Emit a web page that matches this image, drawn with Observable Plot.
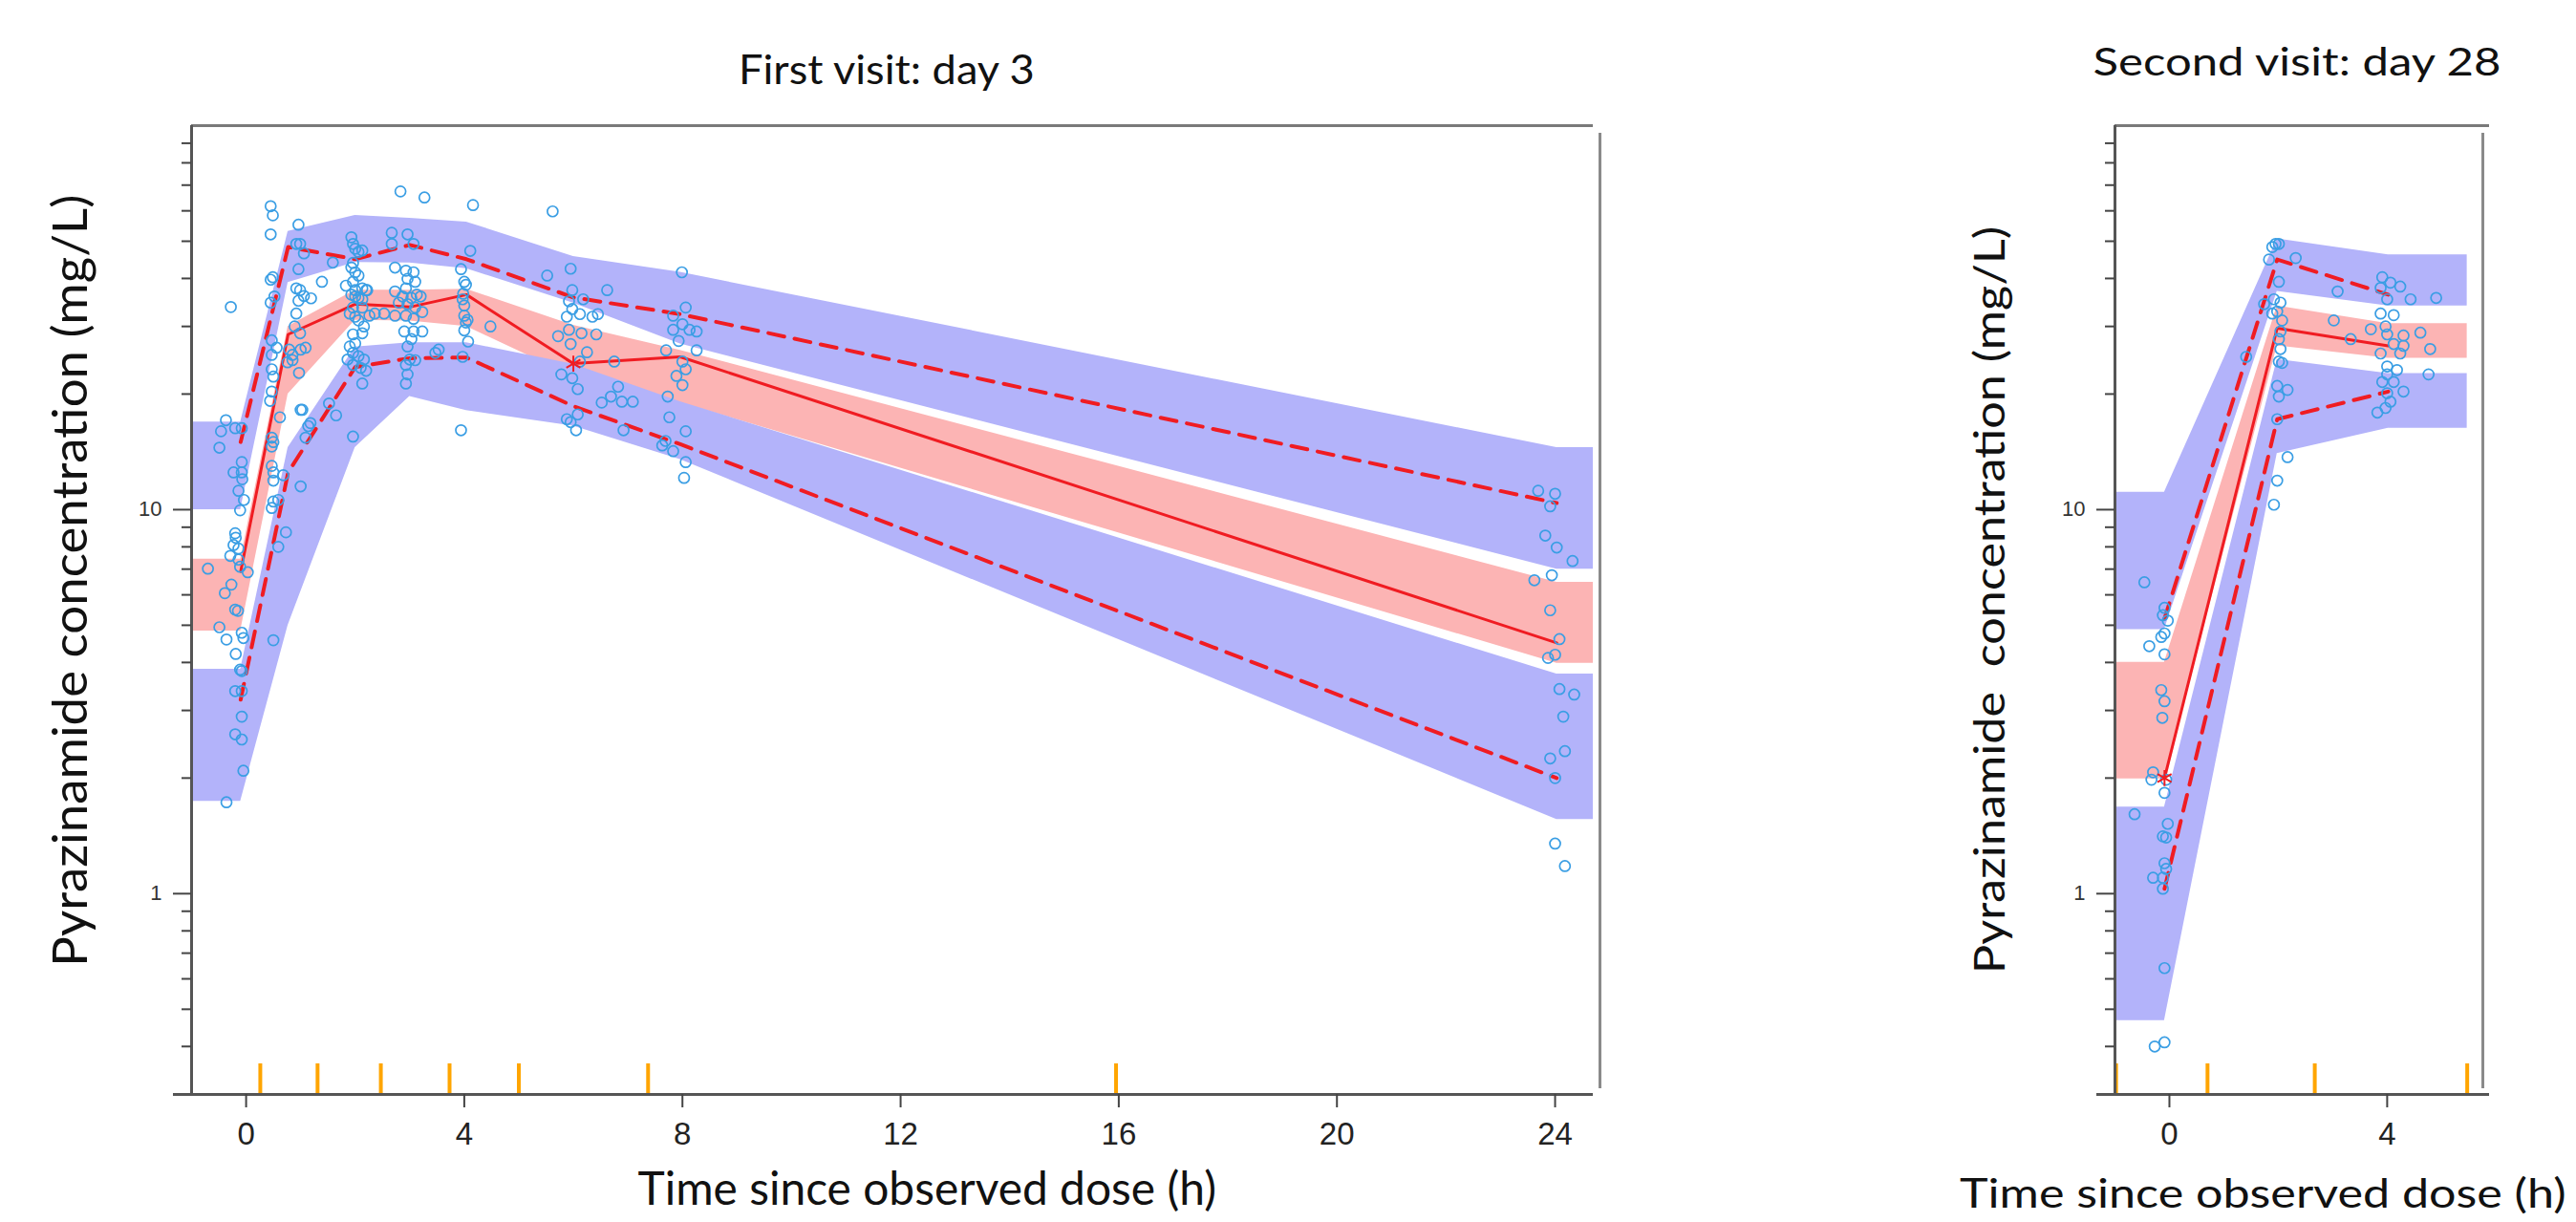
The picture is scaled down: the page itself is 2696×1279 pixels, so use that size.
<!DOCTYPE html>
<html><head><meta charset="utf-8">
<script src="https://cdn.jsdelivr.net/npm/d3@7"></script>
<script src="https://cdn.jsdelivr.net/npm/@observablehq/plot@0.6"></script>
<style>
html,body{margin:0;padding:0;background:#fff;}
#root{position:relative;width:2696px;height:1279px;overflow:hidden;background:#fff;}
.panel{position:absolute;top:0;}
.lbl{position:absolute;white-space:pre;font-family:Lato,"Open Sans",sans-serif;color:#111;line-height:1.15;transform-origin:50% 50%;}
</style></head><body><div id="root"></div>
<script>
// ---------- shared axes ----------
const yDomain = [0.3, 100];
const yMajorTicks = [1, 10];
const yMinorTicks = [0.4, 0.5, 0.6, 0.7, 0.8, 0.9, 2, 3, 4, 5, 6, 7, 8, 9, 20, 30, 40, 50, 60, 70, 80, 90];

// ---------- First visit: day 3 ----------
const leftXDomain = [-1, 24.7];
const leftXTicks = [0, 4, 8, 12, 16, 20, 24];
const leftBandExtent = [-1, 24.7];
const leftBinTime = [-0.1, 0.77, 2.0, 3.0, 4.04, 6.0, 7.96, 24.03];
const leftMedian = [6.9, 28.6, 34.3, 33.7, 36.3, 24.0, 25.0, 4.5];
const leftP95 = [15, 48.3, 44.9, 48.9, 44.9, 35.7, 32.3, 10.4];
const leftP05 = [3.2, 12.5, 23.5, 24.8, 24.9, 18.6, 14.8, 2.0];
const leftUpperCiLo = [10.0, 39, 44, 43.9, 42.4, 34.5, 27, 7.0];
const leftUpperCiHi = [16.9, 53, 58.4, 57.4, 56.1, 45.6, 41.5, 14.5];
const leftMedCiLo = [4.83, 20, 31.1, 31, 30, 22.2, 19, 3.98];
const leftMedCiHi = [7.43, 30, 37.3, 37.3, 37.5, 30.2, 26, 6.47];
const leftLowerCiLo = [1.74, 5.0, 14.5, 19.7, 18.1, 16.5, 13.5, 1.56];
const leftLowerCiHi = [3.84, 14.5, 26.5, 27.2, 27.2, 23.9, 19.1, 3.73];
const leftBinBounds = [0.26, 1.31, 2.47, 3.73, 5.0, 7.37, 15.95];
const leftStarBins = [5];
const leftObs = [
  [-0.37,17.1],[-0.46,16.0],[-0.49,14.5],[-0.20,16.3],[-0.08,16.3],[-0.08,13.3],[-0.23,12.5],[-0.08,12.5],[-0.07,12.0],[-0.14,11.2],
  [-0.04,10.6],[-0.11,9.96],[-0.20,8.68],[-0.19,8.45],[-0.23,8.09],[-0.14,7.92],[-0.29,7.58],[-0.14,7.41],[-0.11,7.10],[0.03,6.87],
  [-0.70,7.02],[-0.27,6.38],[-0.39,6.06],[-0.20,5.49],[-0.15,5.45],[-0.49,4.94],[-0.36,4.59],[-0.08,4.78],[-0.05,4.63],[-0.19,4.21],
  [-0.11,3.83],[-0.08,3.80],[-0.20,3.37],[-0.08,3.37],[-0.08,2.89],[-0.20,2.60],[-0.08,2.52],[-0.05,2.09],[-0.36,1.73],[-0.28,33.7],
  [0.47,27.6],[0.56,26.4],[0.47,25.3],[0.79,26.1],[0.85,25.3],[1.0,26.1],[1.09,26.4],[0.76,24.2],[0.85,24.5],[0.97,22.7],
  [0.47,23.2],[0.50,22.2],[0.47,20.3],[0.44,19.2],[0.62,17.4],[1.0,18.2],[1.03,18.2],[1.14,16.5],[1.09,15.4],[0.47,15.4],
  [0.50,15.0],[0.47,14.6],[0.68,12.3],[0.47,13.0],[0.50,12.5],[0.50,11.9],[0.59,10.6],[0.50,10.5],[0.47,10.1],[1.0,11.5],
  [0.73,8.73],[0.59,8.0],[0.50,4.57],[1.65,17.6],[1.52,18.9],[1.18,16.8],
  [0.45,61.7],[0.49,58.4],[0.45,52.1],[0.96,55.2],[0.92,49.2],[0.99,49.2],[1.06,46.5],[0.96,42.3],[1.39,39.2],[0.49,40.3],
  [0.45,39.7],[0.45,34.6],[0.52,35.9],[0.92,37.7],[0.99,37.3],[1.06,36.0],[1.19,35.5],[0.96,35.0],[0.92,32.4],[0.89,30.0],
  [0.99,28.8],[1.59,44.0],[1.83,38.3],
  [1.93,51.2],[1.96,49.2],[2.0,47.8],[2.06,46.9],[2.13,47.3],[1.96,43.9],[1.93,42.7],[2.0,41.5],[2.06,40.7],[1.96,39.2],
  [2.0,37.3],[2.13,37.7],[2.2,37.3],[1.93,36.3],[2.0,35.9],[2.06,35.6],[2.13,35.3],[1.96,33.6],[2.13,33.6],[1.9,32.4],
  [2.0,31.8],[2.06,31.1],[2.16,30.0],[1.96,28.6],[2.13,28.8],[2.0,27.1],[1.9,26.6],[1.96,25.6],[2.06,25.1],[2.16,24.6],
  [1.96,23.8],[2.1,23.4],[2.2,23.0],[2.13,21.3],[1.96,15.5],[2.26,32.0],[1.86,24.6],
  [2.83,67.4],[3.27,65.0],[2.67,52.6],[2.67,49.2],[2.96,52.1],[3.07,49.2],[2.73,42.7],[2.93,41.9],[3.07,41.5],[2.96,39.9],
  [3.1,39.2],[2.93,37.7],[2.73,37.0],[3.13,36.3],[2.87,35.9],[3.03,35.6],[3.2,35.9],[2.8,34.6],[2.96,34.3],[3.1,33.6],
  [3.23,32.7],[2.73,32.0],[2.93,32.0],[3.07,31.4],[2.9,29.1],[3.07,29.1],[3.23,29.1],[3.03,27.8],[2.96,26.6],[3.0,24.6],
  [3.1,24.5],[2.93,23.8],[2.96,22.5],[2.93,21.3],[3.47,25.6],[3.53,26.1],[2.36,32.4],[2.53,32.4],[2.22,37.3],
  [4.16,62.1],[4.11,47.2],[3.94,42.3],[4.0,39.2],[4.03,38.5],[3.97,35.3],[4.0,32.0],[4.03,30.7],[4.0,29.3],[4.07,27.4],
  [3.97,25.0],[4.48,30.0],[3.94,16.1],[4.0,34.0],[4.06,31.2],[3.98,36.5],
  [5.62,59.8],[5.95,42.4],[5.52,40.7],[5.98,37.3],[6.62,37.3],[6.18,35.3],[5.92,34.9],[5.98,33.3],[6.45,32.3],[6.35,31.8],
  [6.12,32.3],[5.88,31.8],[5.72,28.3],[5.92,29.4],[6.15,28.8],[6.42,28.6],[5.95,27.0],[6.25,25.7],[6.12,24.3],[6.75,24.3],
  [5.78,22.5],[5.98,22.0],[6.82,20.9],[6.08,20.6],[6.69,19.7],[6.89,19.1],[7.09,19.1],[6.52,19.0],[6.08,17.7],[5.88,17.2],
  [5.95,16.9],[6.05,16.1],[6.92,16.1],
  [7.99,41.5],[8.06,33.6],[7.83,32.0],[8.0,30.4],[7.83,29.4],[8.13,29.4],[8.26,29.1],[7.93,27.5],[7.7,26.0],[8.26,26.0],
  [8.0,24.3],[8.06,23.2],[7.89,22.3],[8.0,21.1],[7.73,19.7],[7.76,17.4],[8.06,16.0],[7.69,15.1],[7.63,14.7],[7.83,14.2],
  [8.06,13.3],[8.03,12.1],
  [23.69,11.2],[24.0,11.0],[23.91,10.2],[23.82,8.56],[24.03,7.97],[24.32,7.35],[23.62,6.55],[23.94,6.75],[23.91,5.47],[24.08,4.60],
  [23.87,4.11],[24.0,4.19],[24.08,3.41],[24.35,3.30],[24.15,2.89],[24.18,2.35],[23.91,2.25],[24.0,2.0],[24.0,1.35],[24.18,1.18]
];

// ---------- Second visit: day 28 ----------
const rightXDomain = [-1, 5.88];
const rightXTicks = [0, 4];
const rightBandExtent = [-0.98, 5.47];
const rightBinTime = [-0.09, 1.98, 4.02];
const rightMedian = [2.0, 29.7, 26.7];
const rightP95 = [5.2, 44.8, 36.3];
const rightP05 = [1.03, 17.2, 20.3];
const rightUpperCiLo = [4.87, 37.0, 33.9];
const rightUpperCiHi = [11.1, 50.7, 46.1];
const rightMedCiLo = [1.99, 26.7, 24.8];
const rightMedCiHi = [4.0, 33.9, 30.5];
const rightLowerCiLo = [0.467, 14.0, 16.3];
const rightLowerCiHi = [1.68, 24.6, 22.6];
const rightBinBounds = [-0.98, 0.70, 2.67, 5.47];
const rightStarBins = [0];
const rightObs = [
  [-0.46,6.47],[-0.09,5.55],[-0.12,5.31],[-0.03,5.14],[-0.09,4.76],[-0.15,4.66],[-0.37,4.41],[-0.09,4.20],[-0.15,3.39],[-0.09,3.17],
  [-0.13,2.87],[-0.30,2.07],[-0.33,1.98],[-0.09,1.83],[-0.06,1.98],[-0.64,1.61],[-0.03,1.52],[-0.12,1.41],[-0.06,1.40],[-0.09,1.20],
  [-0.06,1.16],[-0.30,1.10],[-0.12,1.10],[-0.12,1.03],[-0.09,0.64],[-0.09,0.41],[-0.27,0.40],
  [1.89,48.3],[1.95,49.2],[2.01,49.2],[1.83,44.8],[2.32,45.2],[2.01,39.2],[1.74,34.3],[1.92,35.3],[2.04,34.6],[1.98,32.8],
  [1.89,32.4],[2.07,31.1],[2.04,29.1],[2.01,27.8],[2.04,26.2],[2.01,24.3],[2.07,24.1],[1.41,25.0],[1.98,21.0],[2.17,20.5],
  [2.01,19.7],[1.98,17.2],[2.17,13.7],[1.98,11.9],[1.92,10.3],[3.02,31.1],[3.33,27.8],[3.09,37.0],
  [3.91,40.3],[4.06,39.0],[4.24,38.1],[3.88,37.8],[4.0,35.3],[4.43,35.3],[4.90,35.6],[3.88,32.4],[4.12,32.1],[3.97,30.0],
  [3.70,29.5],[4.0,28.6],[4.30,28.4],[4.61,28.9],[4.12,27.0],[4.30,26.7],[4.79,26.2],[3.88,25.5],[4.24,25.5],[4.0,23.6],
  [4.18,23.1],[4.76,22.5],[4.0,22.5],[3.91,21.5],[4.12,21.5],[4.30,20.3],[4.0,20.1],[4.06,19.1],[3.97,18.4],[3.82,17.9]
];

// ---------- styles ----------
const BLUE = "#b3b3fa", PINK = "#fcb4b4", RED = "#f01c22", PT = "#3a9ee4", ORANGE = "#ffa500";

function bandRows(xs, lo, hi, ext) {
  const rows = xs.map((x, i) => ({x, lo: lo[i], hi: hi[i]}));
  return [{x: ext[0], lo: lo[0], hi: hi[0]}, ...rows, {x: ext[1], lo: lo[lo.length - 1], hi: hi[hi.length - 1]}];
}

function drawPanel(c) {
  const rows = (ys) => c.binX.map((x, i) => ({x, y: ys[i]}));
  const marks = [
    Plot.areaY(bandRows(c.binX, c.uLo, c.uHi, c.ext), {x: "x", y1: "lo", y2: "hi", fill: BLUE}),
    Plot.areaY(bandRows(c.binX, c.mLo, c.mHi, c.ext), {x: "x", y1: "lo", y2: "hi", fill: PINK}),
    Plot.areaY(bandRows(c.binX, c.lLo, c.lHi, c.ext), {x: "x", y1: "lo", y2: "hi", fill: BLUE}),
    Plot.line(rows(c.p95), {x: "x", y: "y", stroke: RED, strokeWidth: 4, strokeDasharray: "17,11"}),
    Plot.line(rows(c.p05), {x: "x", y: "y", stroke: RED, strokeWidth: 4, strokeDasharray: "17,11"}),
    Plot.line(rows(c.med), {x: "x", y: "y", stroke: RED, strokeWidth: 3}),
    Plot.dot(c.obs, {x: d => d[0], y: d => d[1], r: 5.5, stroke: PT, strokeWidth: 1.7, fill: "none"}),
    Plot.dot(rows(c.med).filter((d, i) => c.stars.includes(i)), {x: "x", y: "y", symbol: "asterisk", r: 8, stroke: RED, strokeWidth: 2}),
    Plot.ruleX(c.bounds, {x: d => d, y1: () => yDomain[0], y2: () => yDomain[0], insetTop: -32, stroke: ORANGE, strokeWidth: 4}),
    Plot.ruleY([yDomain[1]], {stroke: "#7a7a7a", strokeWidth: 3}),
    Plot.ruleX([c.xDomain[0]], {stroke: "#555", strokeWidth: 3}),
    Plot.ruleY([yDomain[0]], {stroke: "#555", strokeWidth: 3, insetLeft: -19}),
    Plot.ruleX([c.xDomain[1]], {dx: c.rightDx, insetTop: 8, insetBottom: 6, stroke: "#8a8a8a", strokeWidth: 3}),
    Plot.axisX({ticks: c.xTicks, tickSize: 14, tickPadding: 15, fontSize: 33, stroke: "#444", strokeWidth: 2, color: "#222", label: null, tickFormat: d => String(d)}),
    Plot.axisY({ticks: yMajorTicks, tickSize: 19, tickPadding: 12, fontSize: 22, stroke: "#444", strokeWidth: 2, color: "#333", label: null, tickFormat: d => String(d)}),
    Plot.axisY({ticks: yMinorTicks, tickSize: 10, stroke: "#444", strokeWidth: 2, label: null, tickFormat: () => ""})
  ];
  return Plot.plot({
    width: c.width, height: 1279,
    marginLeft: c.ml, marginRight: c.mr, marginTop: 131, marginBottom: 134,
    x: {domain: c.xDomain},
    y: {type: "log", domain: yDomain},
    style: {background: "transparent", fontFamily: "'Liberation Sans', Arial, sans-serif"},
    marks
  });
}

const root = document.getElementById("root");
const left = drawPanel({
  width: 1700, ml: 200, mr: 33, xDomain: leftXDomain, xTicks: leftXTicks, ext: leftBandExtent, binX: leftBinTime,
  med: leftMedian, p95: leftP95, p05: leftP05, uLo: leftUpperCiLo, uHi: leftUpperCiHi, mLo: leftMedCiLo, mHi: leftMedCiHi,
  lLo: leftLowerCiLo, lHi: leftLowerCiHi, bounds: leftBinBounds, obs: leftObs, stars: leftStarBins, rightDx: 7
});
left.classList.add("panel"); left.style.left = "0px";
root.appendChild(left);

const right = drawPanel({
  width: 596, ml: 113, mr: 91, xDomain: rightXDomain, xTicks: rightXTicks, ext: rightBandExtent, binX: rightBinTime,
  med: rightMedian, p95: rightP95, p05: rightP05, uLo: rightUpperCiLo, uHi: rightUpperCiHi, mLo: rightMedCiLo, mHi: rightMedCiHi,
  lLo: rightLowerCiLo, lHi: rightLowerCiHi, bounds: rightBinBounds, obs: rightObs, stars: rightStarBins, rightDx: -7
});
right.classList.add("panel"); right.style.left = "2100px";
root.appendChild(right);

function addLabel(text, cx, cy, w, fs, rot) {
  const el = document.createElement("div");
  el.className = "lbl";
  el.textContent = text;
  el.style.fontSize = fs + "px";
  root.appendChild(el);
  const mw = el.offsetWidth, mh = el.offsetHeight;
  el.style.left = (cx - mw / 2) + "px";
  el.style.top = (cy - mh / 2) + "px";
  el.style.transform = `rotate(${rot}deg) scaleX(${w / mw})`;
}
addLabel("First visit: day 3", 928, 72, 310, 42, 0);
addLabel("Time since observed dose (h)", 970, 1242, 605, 48, 0);
addLabel("Pyrazinamide concentration (mg/L)", 72, 608, 808, 50, -90);
addLabel("Second visit: day 28", 2404, 64, 427, 40, 0);
addLabel("Pyrazinamide  concentration (mg/L)", 2082, 628, 782, 45, -90);
addLabel("Time since observed dose (h)", 2368, 1248, 635, 42, 0);
</script></body></html>
